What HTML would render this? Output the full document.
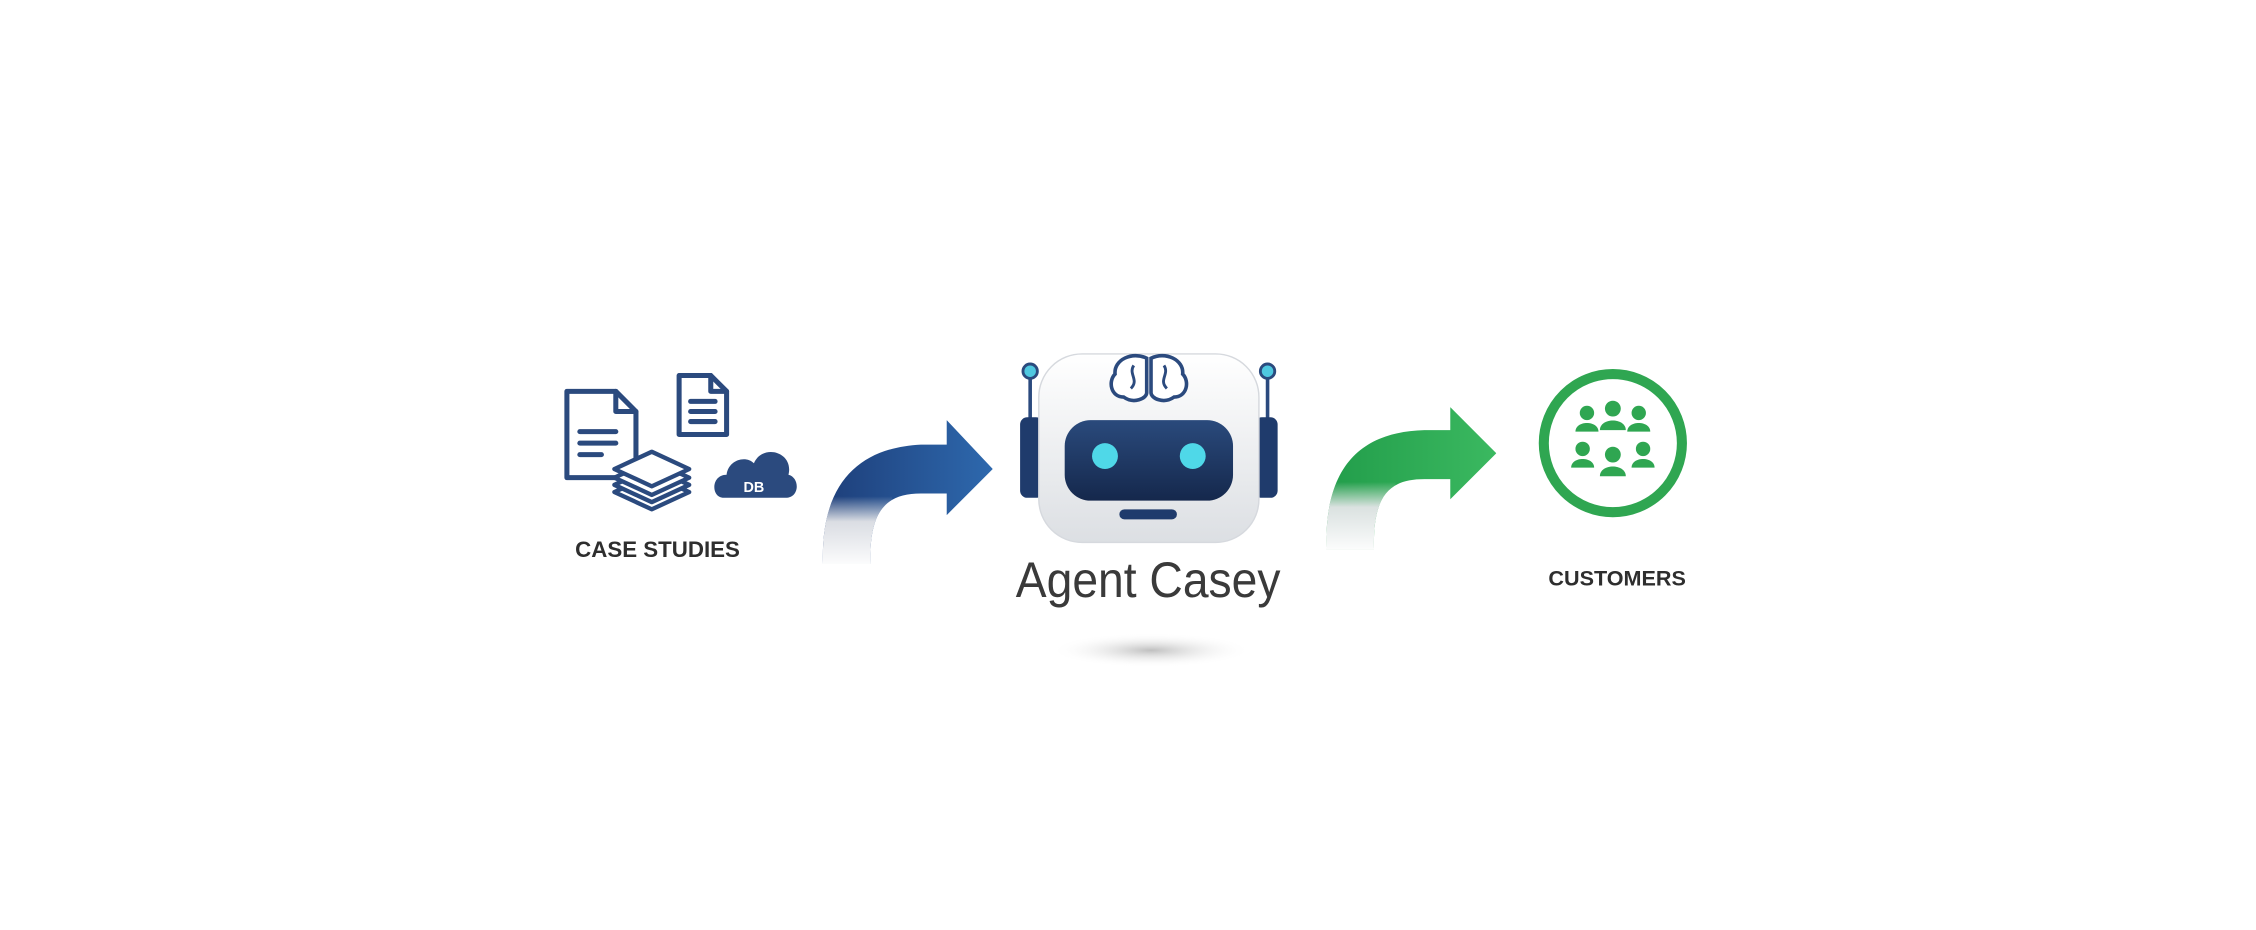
<!DOCTYPE html>
<html><head><meta charset="utf-8"><style>
html,body{margin:0;padding:0;background:#fff;}
svg{display:block}
</style></head><body>
<svg width="2256" height="930" viewBox="0 0 1568 646.4" xmlns="http://www.w3.org/2000/svg">
<defs>
<linearGradient id="bl" x1="0" y1="0" x2="1" y2="0"><stop offset="0" stop-color="#1c3a74"/><stop offset="1" stop-color="#2f6cb2"/></linearGradient>
<linearGradient id="gr" x1="0" y1="0" x2="1" y2="0"><stop offset="0" stop-color="#1f9a48"/><stop offset="1" stop-color="#3dbb62"/></linearGradient>
<linearGradient id="fade" x1="0" y1="0" x2="0" y2="1"><stop offset="0" stop-color="#e8e8ea" stop-opacity="0"/><stop offset="0.35" stop-color="#e4e5e8" stop-opacity="0.95"/><stop offset="1" stop-color="#fff" stop-opacity="1"/></linearGradient>
<linearGradient id="head" x1="0" y1="0" x2="0" y2="1"><stop offset="0" stop-color="#ffffff"/><stop offset="1" stop-color="#dcdfe3"/></linearGradient>
<linearGradient id="visor" x1="0" y1="0" x2="0" y2="1"><stop offset="0" stop-color="#2a4a7c"/><stop offset="1" stop-color="#15284c"/></linearGradient>
<radialGradient id="sh"><stop offset="0" stop-color="#bfbfbf"/><stop offset="1" stop-color="#fff" stop-opacity="0"/></radialGradient>
<clipPath id="cb"><path d="M572,392 C570,333 600,311 640,309 L658,309 L658,292 L690,326 L658,358 L658,343 L640,343 C615,343 604,356 605,392 Z"/></clipPath>
<clipPath id="cg"><path d="M922,382 C920,320 950,300 990,299 L1008,299 L1008,283 L1040,315 L1008,347 L1008,333 L990,333 C965,333 954,345 955,382 Z"/></clipPath>
</defs>

<!-- documents -->
<g fill="none" stroke="#2b4a7e" stroke-width="3.5" stroke-linejoin="round" stroke-linecap="round">
<path d="M394,272 H428 L442,286 V332 H394 Z"/>
<path d="M428,272 V286 H442"/>
<line x1="403" y1="300" x2="428" y2="300"/><line x1="403" y1="308" x2="428" y2="308"/><line x1="403" y1="316" x2="418" y2="316"/>
<path d="M472,261 H494 L505,272 V302 H472 Z"/>
<path d="M494,261 V272 H505"/>
<line x1="480" y1="279" x2="497" y2="279"/><line x1="480" y1="286" x2="497" y2="286"/><line x1="480" y1="293" x2="497" y2="293"/>
</g>
<g stroke="#2b4a7e" stroke-width="3" fill="#fff" stroke-linejoin="round">
<path d="M427,342 L453,330 L479,342 L453,354 Z"/>
<path d="M427,337 L453,325 L479,337 L453,349 Z"/>
<path d="M427,332 L453,320 L479,332 L453,344 Z"/>
<path d="M427,326 L453,314 L479,326 L453,338 Z"/>
</g>
<path d="M503,346 C494,346 494,330 505,330 C506,320 518,316 524,322 C530,308 552,314 548,330 C556,332 556,346 546,346 Z" fill="#2b4a7e"/>
<text x="524" y="342" font-family="Liberation Sans,sans-serif" font-size="10" fill="#fff" text-anchor="middle" font-weight="bold">DB</text>
<text x="457" y="387" font-family="Liberation Sans,sans-serif" font-size="15.5" font-weight="bold" fill="#2e2e2e" text-anchor="middle">CASE STUDIES</text>

<!-- blue arrow -->
<g clip-path="url(#cb)">
<rect x="560" y="285" width="140" height="110" fill="url(#bl)"/>
<rect x="560" y="345" width="60" height="50" fill="url(#fade)"/>
</g>

<!-- robot -->
<line x1="716" y1="262" x2="716" y2="292" stroke="#2b4a7e" stroke-width="2.5"/>
<line x1="881" y1="262" x2="881" y2="292" stroke="#2b4a7e" stroke-width="2.5"/>
<circle cx="716" cy="258" r="5" fill="#4fc8e0" stroke="#2b4a7e" stroke-width="2"/>
<circle cx="881" cy="258" r="5" fill="#4fc8e0" stroke="#2b4a7e" stroke-width="2"/>
<rect x="709" y="290" width="16" height="56" rx="5" fill="#1f3b6c"/>
<rect x="872" y="290" width="16" height="56" rx="5" fill="#1f3b6c"/>
<rect x="722" y="246" width="153" height="131" rx="30" fill="url(#head)" stroke="#d6d9de" stroke-width="1"/>
<g fill="#fff" stroke="#2b4a7e" stroke-width="2.5">
<path d="M797,249 C787,244 774,250 775,260 C770,265 772,276 781,276 C788,281 797,277 797,273 Z"/>
<path d="M800,249 C810,244 823,250 822,260 C827,265 825,276 816,276 C809,281 800,277 800,273 Z"/>
</g>
<g fill="none" stroke="#2b4a7e" stroke-width="2"><path d="M788,254 C784,260 792,264 786,270"/><path d="M809,254 C813,260 805,264 811,270"/></g>
<rect x="740" y="292" width="117" height="56" rx="18" fill="url(#visor)"/>
<circle cx="768" cy="317" r="9" fill="#4fd8e8"/>
<circle cx="829" cy="317" r="9" fill="#4fd8e8"/>
<rect x="778" y="354" width="40" height="7" rx="3.5" fill="#1f3b6c"/>
<text x="798" y="415" font-family="Liberation Sans,sans-serif" font-size="35" fill="#3a3a3a" text-anchor="middle" textLength="184" lengthAdjust="spacingAndGlyphs">Agent Casey</text>
<ellipse cx="800" cy="452" rx="70" ry="12" fill="url(#sh)"/>

<!-- green arrow -->
<g clip-path="url(#cg)">
<rect x="910" y="275" width="140" height="110" fill="url(#gr)"/>
<rect x="910" y="335" width="60" height="50" fill="url(#fade)"/>
</g>

<!-- customers -->
<circle cx="1121" cy="308" r="48" fill="#fff" stroke="#2fa651" stroke-width="7"/>
<g fill="#2fa651">
<g transform="translate(1103,287)"><circle r="5"/><path d="M-8,13 C-8,5 8,5 8,13 Z"/></g>
<g transform="translate(1139,287)"><circle r="5"/><path d="M-8,13 C-8,5 8,5 8,13 Z"/></g>
<g transform="translate(1121,284)"><circle r="5.5"/><path d="M-9,15 C-9,6 9,6 9,15 Z"/></g>
<g transform="translate(1100,312)"><circle r="5"/><path d="M-8,13 C-8,5 8,5 8,13 Z"/></g>
<g transform="translate(1142,312)"><circle r="5"/><path d="M-8,13 C-8,5 8,5 8,13 Z"/></g>
<g transform="translate(1121,316)"><circle r="5.5"/><path d="M-9,15 C-9,6 9,6 9,15 Z"/></g>
</g>
<text x="1124" y="407" font-family="Liberation Sans,sans-serif" font-size="15" font-weight="bold" fill="#2e2e2e" text-anchor="middle">CUSTOMERS</text>
</svg>
</body></html>
